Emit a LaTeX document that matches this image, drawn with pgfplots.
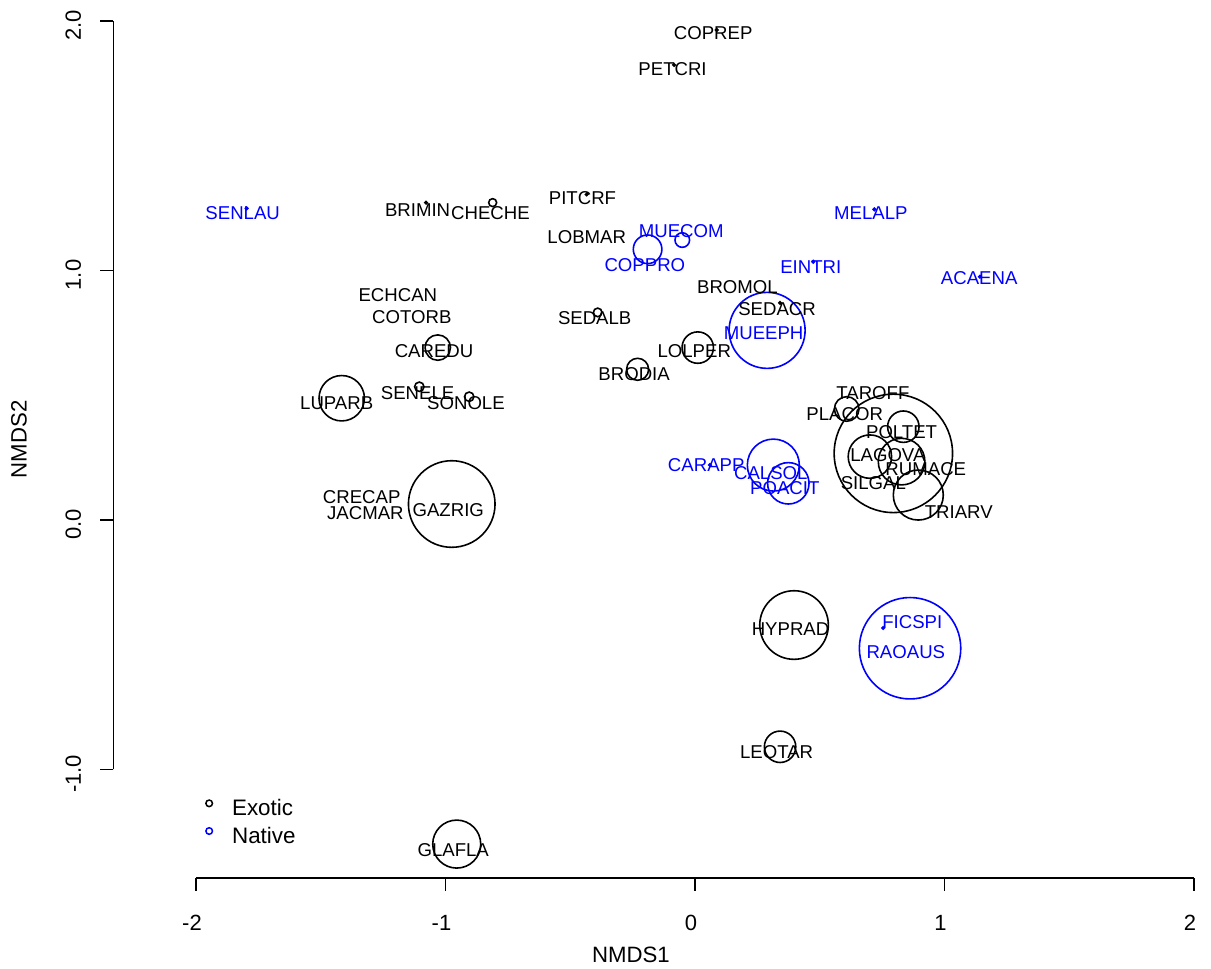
\documentclass[border=0pt]{standalone}
\usepackage{fontspec}
\setmainfont{Liberation Sans}
\usepackage{pgfplots}
\usepackage{pgfplotstable}
\pgfplotsset{compat=1.18}
\definecolor{rblue}{RGB}{0,0,255}

\pgfplotstableread{
name x y r
CHECHE -0.811 1.272 2.0
CAREDU -1.031 0.691 6.35
SENELE -1.105 0.534 2.35
SONOLE -0.905 0.494 2.35
LUPARB -1.416 0.488 11.35
SEDALB -0.390 0.832 2.15
LOLPER 0.011 0.691 7.85
BRODIA -0.230 0.604 5.5
PLACOR 0.608 0.445 6.15
SILGAL 0.795 0.267 29.6
POLTET 0.835 0.374 7.85
LAGOVA 0.701 0.254 10.85
RUMACE 0.828 0.234 11.65
TRIARV 0.895 0.100 12.5
GAZRIG -0.975 0.064 21.65
HYPRAD 0.397 -0.421 17.15
LEOTAR 0.341 -0.909 7.85
GLAFLA -0.955 -1.299 12.0
BRIMIN -1.078 1.272 0.6
COPREP 0.087 1.964 0.6
PETCRI -0.084 1.824 0.6
PITCRF -0.434 1.305 0.6
SEDACR 0.341 0.870 0.6
}\exoticpts

\pgfplotstableread{
name x y r
MUECOM -0.051 1.122 3.65
COPPRO -0.190 1.085 7.15
MUEEPH 0.289 0.760 19.0
CALSOL 0.314 0.220 13.0
POACIT 0.374 0.147 10.35
RAOAUS 0.862 -0.514 25.35
SENLAU -1.797 1.249 0.6
MELALP 0.719 1.245 0.6
EINTRI 0.474 1.035 0.6
ACAENA 1.142 0.975 0.6
CARAPP 0.060 0.220 0.6
FICSPI 0.754 -0.433 0.6
}\nativepts

\pgfplotstableread{
x y label
-1.112 1.242 BRIMIN
-0.820 1.229 CHECHE
-1.191 0.902 ECHCAN
-1.135 0.812 COTORB
-1.046 0.675 CAREDU
-1.112 0.510 SENELE
-0.918 0.470 SONOLE
-1.436 0.470 LUPARB
0.073 1.951 COPREP
-0.090 1.806 PETCRI
-0.451 1.289 PITCRF
-0.434 1.135 LOBMAR
0.170 0.935 BROMOL
0.329 0.846 SEDACR
-0.402 0.808 SEDALB
-0.003 0.675 LOLPER
-0.244 0.585 BRODIA
0.713 0.510 TAROFF
0.600 0.424 PLACOR
0.828 0.354 POLTET
0.773 0.261 LAGOVA
0.925 0.203 RUMACE
0.715 0.147 SILGAL
1.057 0.033 TRIARV
-1.336 0.093 CRECAP
-1.321 0.029 JACMAR
-0.989 0.040 GAZRIG
0.383 -0.438 HYPRAD
0.327 -0.929 LEOTAR
-0.969 -1.323 GLAFLA
}\exoticlab

\pgfplotstableread{
x y label
-1.813 1.229 SENLAU
-0.055 1.156 MUECOM
-0.201 1.022 COPPRO
0.705 1.229 MELALP
0.464 1.013 EINTRI
1.139 0.969 ACAENA
0.275 0.750 MUEEPH
0.045 0.220 CARAPP
0.304 0.187 CALSOL
0.360 0.127 POACIT
0.871 -0.408 FICSPI
0.845 -0.528 RAOAUS
}\nativelab

\begin{document}
\begin{tikzpicture}
\begin{axis}[
  at={(0,0)}, anchor=south west,
  scale only axis, width=605.5pt, height=484.5pt,
  xmin=-2.78557, xmax=2.06814, ymin=-1.79960, ymax=2.08417,
  hide axis, clip=false,
  legend cell align=left,
  legend image code/.code={\draw[#1,mark repeat=2,mark phase=2] plot coordinates {(0pt,2pt) (3pt,2pt) (6pt,2pt)};},
  legend style={draw=none, fill=none, at={(axis cs:-1.962,-1.118)}, anchor=north west,
    inner sep=0pt, column sep=9.8pt, row sep=5.85pt,
    font=\fontsize{11.2}{13}\selectfont,
    nodes={inner sep=0pt, text height=8pt, text depth=0pt}},
]
% circles
\addplot[forget plot, scatter, only marks, mark=o, line width=0.8pt,
  scatter/use mapped color={draw=black},
  visualization depends on={\thisrow{r} \as \circrad},
  scatter/@pre marker code/.append style={/tikz/mark size=\circrad pt}]
  table[x=x, y=y] {\exoticpts};
\addplot[forget plot, scatter, only marks, mark=o, line width=0.8pt,
  scatter/use mapped color={draw=rblue},
  visualization depends on={\thisrow{r} \as \circrad},
  scatter/@pre marker code/.append style={/tikz/mark size=\circrad pt}]
  table[x=x, y=y] {\nativepts};
% labels
\addplot[forget plot, only marks, mark=none, point meta=explicit symbolic,
  nodes near coords, nodes near coords align=center,
  every node near coord/.append style={anchor=center, inner sep=0pt, text=black, font=\fontsize{9.3}{11}\selectfont}]
  table[x=x, y=y, meta=label] {\exoticlab};
\addplot[forget plot, only marks, mark=none, point meta=explicit symbolic,
  nodes near coords, nodes near coords align=center,
  every node near coord/.append style={anchor=center, inner sep=0pt, text=rblue, font=\fontsize{9.3}{11}\selectfont}]
  table[x=x, y=y, meta=label] {\nativelab};
% legend
\addlegendimage{only marks, mark=o, mark size=1.65pt, line width=0.75pt, draw=black}
\addlegendentry{Exotic}
\addlegendimage{only marks, mark=o, mark size=1.65pt, line width=0.75pt, draw=rblue}
\addlegendentry{Native}
% axes (R style, detached)
\draw[line width=0.8pt] (axis cs:-2,-1.435) -- (axis cs:2,-1.435);
\pgfplotsinvokeforeach{-2,-1,0,1,2}{
  \draw[line width=0.8pt] (axis cs:#1,-1.435) -- (axis cs:#1,-1.4883);
  \node[font=\fontsize{11}{13}\selectfont, inner sep=0pt] at (axis cs:#1-0.016,-1.616) {#1};
}
\draw[line width=0.8pt] (axis cs:-2.331,-1) -- (axis cs:-2.331,2);
\pgfplotsinvokeforeach{-1,0,1,2}{
  \draw[line width=0.8pt] (axis cs:-2.331,#1) -- (axis cs:-2.3843,#1);
}
\node[rotate=90, font=\fontsize{11}{13}\selectfont, inner sep=0pt] at (axis cs:-2.492,-1.018) {-1.0};
\node[rotate=90, font=\fontsize{11}{13}\selectfont, inner sep=0pt] at (axis cs:-2.492,-0.018) {0.0};
\node[rotate=90, font=\fontsize{11}{13}\selectfont, inner sep=0pt] at (axis cs:-2.492,0.982) {1.0};
\node[rotate=90, font=\fontsize{11}{13}\selectfont, inner sep=0pt] at (axis cs:-2.492,1.982) {2.0};
\node[font=\fontsize{11.1}{13}\selectfont, inner sep=0pt] at (axis cs:-0.257,-1.742) {NMDS1};
\node[rotate=90, font=\fontsize{11.1}{13}\selectfont, inner sep=0pt] at (axis cs:-2.709,0.323) {NMDS2};
\end{axis}
\pgfresetboundingbox
\useasboundingbox (0,0) rectangle (605.5pt,484.5pt);
\end{tikzpicture}
\end{document}
